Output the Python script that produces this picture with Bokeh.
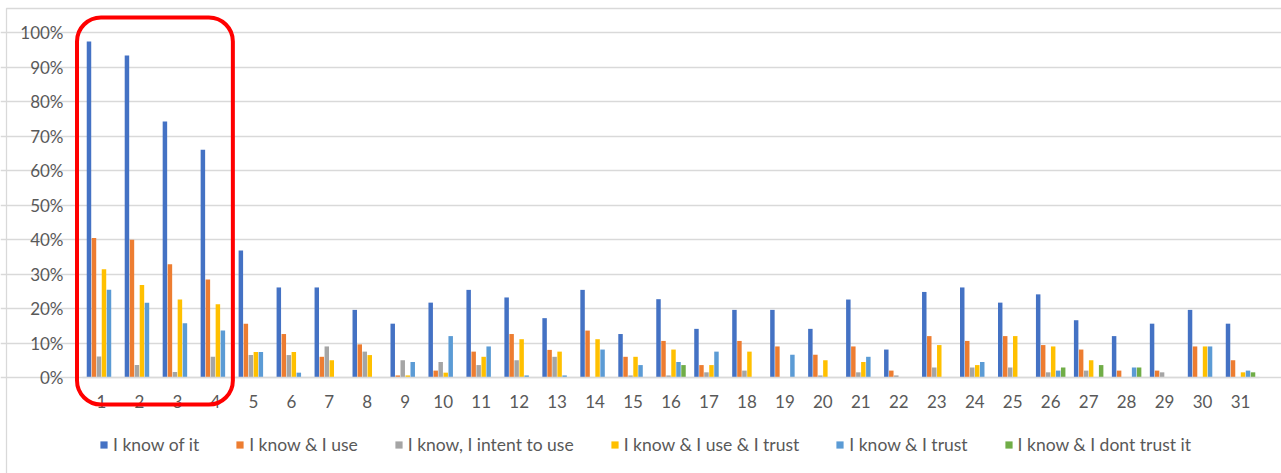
from bokeh.plotting import figure
from bokeh.models import (ColumnDataSource, Range1d, FixedTicker, NumeralTickFormatter,
                          Legend, LegendItem, BoxAnnotation)
from bokeh.embed import file_html
from bokeh.resources import INLINE

categories = list(range(1, 32))
tick_labels = [str(c) for c in categories]

series_names = ["I know of it", "I know & I use", "I know, I intent to use",
                "I know & I use & I trust", "I know & I trust", "I know & I dont trust it"]
series_colors = ["#4472C4", "#ED7D31", "#A5A5A5", "#FFC000", "#5B9BD5", "#70AD47"]

know_of_it = [97.4, 93.3, 74.2, 66.0, 36.8, 26.1, 26.1, 19.6, 15.6, 21.7, 25.4, 23.2, 17.2, 25.4, 12.6, 22.7,
              14.1, 19.6, 19.6, 14.1, 22.6, 8.1, 24.8, 26.1, 21.7, 24.1, 16.6, 12.0, 15.6, 19.6, 15.6]
know_use = [40.4, 39.9, 32.8, 28.4, 15.6, 12.6, 6.0, 9.6, 0.6, 2.0, 7.5, 12.6, 8.0, 13.6, 6.0, 10.6,
            3.6, 10.6, 9.0, 6.6, 9.0, 2.0, 12.0, 10.6, 12.0, 9.4, 8.1, 2.0, 2.0, 9.0, 5.0]
know_intent = [6.1, 3.6, 1.6, 6.0, 6.5, 6.5, 9.0, 7.5, 5.0, 4.5, 3.6, 5.0, 6.0, 0.0, 0.6, 0.6,
               1.5, 2.0, 0.0, 0.6, 1.5, 0.6, 2.9, 2.9, 2.9, 1.5, 2.0, 0.0, 1.5, 0.0, 0.0]
know_use_trust = [31.4, 26.8, 22.6, 21.2, 7.4, 7.4, 5.0, 6.5, 0.6, 1.4, 6.0, 11.1, 7.5, 11.1, 6.0, 8.1,
                  3.6, 7.5, 0.0, 5.0, 4.5, 0.0, 9.4, 3.6, 12.0, 9.0, 5.0, 0.0, 0.0, 9.0, 1.5]
know_trust = [25.4, 21.7, 15.7, 13.6, 7.4, 1.4, 0.0, 0.0, 4.5, 12.0, 9.0, 0.6, 0.6, 8.1, 3.6, 4.5,
              7.5, 0.0, 6.6, 0.0, 6.0, 0.0, 0.0, 4.5, 0.0, 2.0, 0.0, 2.9, 0.0, 9.0, 2.0]
know_dont_trust = [0.0, 0.0, 0.0, 0.0, 0.0, 0.0, 0.0, 0.0, 0.0, 0.0, 0.0, 0.0, 0.0, 0.0, 0.0, 3.6,
                   0.0, 0.0, 0.0, 0.0, 0.0, 0.0, 0.0, 0.0, 0.0, 2.9, 3.6, 2.9, 0.0, 0.0, 1.5]

series_values = [know_of_it, know_use, know_intent, know_use_trust, know_trust, know_dont_trust]

highlight_first, highlight_last = 1, 4

FONT = "Lato"
TEXT = "#595959"
GRID = "#d9d9d9"

W, H = 1281, 473
# plot-area placement inside the canvas (pixels)
AX_L, AX_R, AX_TOP, AX_BOT = 82, 1259, 32, 377
n = len(categories)
px_per_x = (AX_R - AX_L) / n
px_per_y = (AX_BOT - AX_TOP) / 1.0

def dx(px):
    return 0.5 + (px - AX_L) / px_per_x

def dy(py):
    return (AX_BOT - py) / px_per_y

p = figure(width=W, height=H, x_range=Range1d(dx(0), dx(W)), y_range=Range1d(dy(H), dy(0)),
           output_backend="svg", toolbar_location=None,
           min_border_left=0, min_border_right=0, min_border_top=0, min_border_bottom=0)
p.outline_line_color = None
p.background_fill_color = "white"
p.border_fill_color = "white"

pitch = 0.1317
bw = 0.118
renderers = []
for i, (name, vals, col) in enumerate(zip(series_names, series_values, series_colors)):
    off = (i - 2.5) * pitch
    src = ColumnDataSource(dict(x=[c + off for c in categories], top=[v / 100 for v in vals]))
    r = p.vbar(x="x", top="top", bottom=0, width=bw, source=src, fill_color=col, line_color=None)
    renderers.append((name, r))

yticks = [i / 10 for i in range(11)]
p.xgrid.grid_line_color = None
p.ygrid.grid_line_color = GRID
p.ygrid.grid_line_width = 1.3
p.ygrid.ticker = FixedTicker(ticks=yticks)
p.ygrid.bounds = (0.5, n + 0.5)

p.yaxis.fixed_location = 0.5
p.yaxis.ticker = FixedTicker(ticks=yticks)
p.yaxis.formatter = NumeralTickFormatter(format="0%")
p.yaxis.axis_line_color = None
p.yaxis.major_tick_line_color = None
p.yaxis.minor_tick_line_color = None
p.yaxis.major_label_text_font = FONT
p.yaxis.major_label_text_font_size = "17px"
p.yaxis.major_label_text_color = TEXT
p.yaxis.major_label_standoff = 13

p.xaxis.fixed_location = 0
p.xaxis.bounds = (0.5, n + 0.5)
p.xaxis.ticker = FixedTicker(ticks=categories)
p.xaxis.major_label_overrides = {c: t for c, t in zip(categories, tick_labels)}
p.xaxis.axis_line_color = GRID
p.xaxis.axis_line_width = 1.3
p.xaxis.major_tick_line_color = None
p.xaxis.minor_tick_line_color = None
p.xaxis.major_label_text_font = FONT
p.xaxis.major_label_text_font_size = "17px"
p.xaxis.major_label_text_color = TEXT
p.xaxis.major_label_standoff = 11

legend = Legend(items=[LegendItem(label=nm, renderers=[r]) for nm, r in renderers],
                orientation="horizontal", location=(99, 18),
                glyph_width=9, glyph_height=9, label_standoff=5, spacing=36,
                label_text_font=FONT, label_text_font_size="17.5px", label_text_color=TEXT,
                border_line_color=None, background_fill_alpha=0, margin=0, padding=4)
p.add_layout(legend)

# outer chart border
p.add_layout(BoxAnnotation(left=dx(6), right=dx(W + 10), top=dy(8), bottom=dy(H + 10),
                           fill_alpha=0, line_color=GRID, line_alpha=1, line_width=1.3,
                           level="underlay"))

# red highlight around the first categories
hl = BoxAnnotation(left=highlight_first - 0.5 - 5.5 / px_per_x,
                   right=highlight_last + 0.5 - 1.5 / px_per_x,
                   top=1 + 15 / px_per_y, bottom=-27 / px_per_y,
                   fill_alpha=0, line_color="#FF0000", line_alpha=1, line_width=4,
                   border_radius=24, level="overlay")
p.add_layout(hl)

open("out.html", "w").write(file_html(p, INLINE))
